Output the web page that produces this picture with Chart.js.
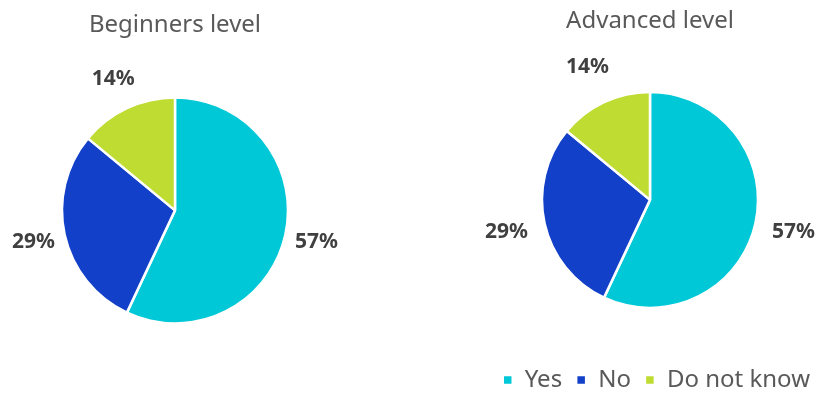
<!DOCTYPE html>
<html>
<head>
<meta charset="utf-8">
<script src="https://cdn.jsdelivr.net/npm/chart.js@4.4.1/dist/chart.umd.min.js"></script>
<style>
  html, body { margin: 0; padding: 0; background: #ffffff; overflow: hidden; }
  #wrap { position: relative; width: 824px; height: 394px; overflow: hidden; }
  .vak { position: absolute; top: 0; }
  #links { left: 0; width: 350px; height: 394px; }
  #rechts { left: 476px; width: 348px; height: 404px; }
</style>
</head>
<body>
<div id="wrap">
  <div class="vak" id="links"><canvas id="beginnersChart"></canvas></div>
  <div class="vak" id="rechts"><canvas id="advancedChart"></canvas></div>
</div>
<script>
let categorieen = ["Yes", "No", "Do not know"];
let beginners = [57, 29, 14];
let gevorderd = [57, 29, 14];
let kleuren = ["#00C8D7", "#1240C8", "#BEDC32"];

let letter = "'Noto Sans', 'Open Sans', sans-serif";
let titelkleur = "#595959";
let labelkleur = "#404040";

// percentages buiten de taartpunten, op de middellijn van elke punt
function procentLabels(afstand) {
    return {
        id: "procentLabels",
        afterDatasetsDraw(chart) {
            const ctx = chart.ctx;
            const meta = chart.getDatasetMeta(0);
            const waarden = chart.data.datasets[0].data;
            ctx.save();
            ctx.font = "bold 21px " + letter;
            ctx.fillStyle = labelkleur;
            ctx.textAlign = "center";
            ctx.textBaseline = "middle";
            meta.data.forEach((boog, i) => {
                const { x, y, startAngle, endAngle, outerRadius } = boog.getProps(["x", "y", "startAngle", "endAngle", "outerRadius"], true);
                const midden = (startAngle + endAngle) / 2;
                const r = outerRadius + afstand;
                ctx.fillText(waarden[i] + "%", x + Math.cos(midden) * r, y + Math.sin(midden) * r);
            });
            ctx.restore();
        }
    };
}

function maakTaart(id, titel, waarden, straal, afstand, titelBoven, opvulling, metLegenda) {
    return new Chart(document.getElementById(id), {
        type: "pie",
        data: {
            labels: categorieen,
            datasets: [{
                data: waarden,
                backgroundColor: kleuren,
                borderColor: "#ffffff",
                borderWidth: 2.5,
                radius: straal
            }]
        },
        options: {
            responsive: true,
            maintainAspectRatio: false,
            animation: false,
            layout: { padding: opvulling },
            plugins: {
                title: {
                    display: true,
                    text: titel,
                    color: titelkleur,
                    font: { family: letter, size: 24, weight: "normal" },
                    padding: { top: titelBoven, bottom: 10 }
                },
                legend: {
                    display: metLegenda,
                    position: "bottom",
                    align: "end",
                    labels: {
                        color: titelkleur,
                        font: { family: letter, size: 24 },
                        boxWidth: 10,
                        boxHeight: 10,
                        padding: 14
                    }
                },
                tooltip: { enabled: false }
            }
        },
        plugins: [procentLabels(afstand)]
    });
}

maakTaart("beginnersChart", "Beginners level", beginners, 113, 32, 11, { top: 0, bottom: 23, left: 0, right: 0 }, false);
maakTaart("advancedChart", "Advanced level", gevorderd, 108, 39, 7, { top: 0, bottom: 2, left: 0, right: 0 }, true);
</script>
</body>
</html>
